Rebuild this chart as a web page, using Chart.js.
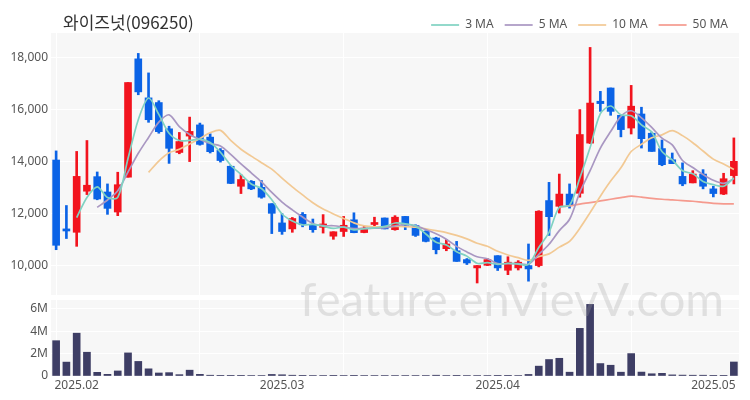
<!DOCTYPE html>
<html>
<head>
<meta charset="utf-8">
<script src="https://cdn.jsdelivr.net/npm/chart.js@4.4.1/dist/chart.umd.min.js"></script>
<style>
  html, body { margin: 0; padding: 0; background: #fff; }
  #wrap { position: relative; width: 750px; height: 400px; overflow: hidden; }
  #title { position: absolute; left: 63px; top: 12px; line-height: 20px; font-size: 17px;
           font-family: "Noto Sans CJK KR", "Noto Sans", sans-serif; color: #333; }
  #mark { position: absolute; left: 300px; top: 274px; line-height: 48px; font-size: 47px;
          font-family: Lato, sans-serif; color: rgba(160, 160, 160, 0.28);
          white-space: nowrap; pointer-events: none; }
</style>
</head>
<body>
<div id="wrap">
  <canvas id="priceChart" width="750" height="298" style="position:absolute;left:0;top:0"></canvas>
  <canvas id="volChart" width="750" height="102" style="position:absolute;left:0;top:298px"></canvas>
  <div id="title">와이즈넛(096250)</div>
  <div id="mark">feature.enVievV.com</div>
</div>
<script>
// 거래일
const dates = [
  "2025.01.24", "2025.01.31",
  "2025.02.03", "2025.02.04", "2025.02.05", "2025.02.06", "2025.02.07",
  "2025.02.10", "2025.02.11", "2025.02.12", "2025.02.13", "2025.02.14",
  "2025.02.17", "2025.02.18", "2025.02.19", "2025.02.20", "2025.02.21",
  "2025.02.24", "2025.02.25", "2025.02.26", "2025.02.27", "2025.02.28",
  "2025.03.03", "2025.03.04", "2025.03.05", "2025.03.06", "2025.03.07",
  "2025.03.10", "2025.03.11", "2025.03.12", "2025.03.13", "2025.03.14",
  "2025.03.17", "2025.03.18", "2025.03.19", "2025.03.20", "2025.03.21",
  "2025.03.24", "2025.03.25", "2025.03.26", "2025.03.27", "2025.03.28", "2025.03.31",
  "2025.04.01", "2025.04.02", "2025.04.03", "2025.04.04",
  "2025.04.07", "2025.04.08", "2025.04.09", "2025.04.10", "2025.04.11",
  "2025.04.14", "2025.04.15", "2025.04.16", "2025.04.17", "2025.04.18",
  "2025.04.21", "2025.04.22", "2025.04.23", "2025.04.24", "2025.04.25",
  "2025.04.28", "2025.04.29",
  "2025.05.02", "2025.05.07", "2025.05.08"
];

// 시가 / 고가 / 저가 / 종가
const openP = [14050, 11400, 11270, 12850, 13410, 12820, 12050, 13390, 17940, 16440,
  16260, 15250, 14340, 14970, 15400, 14930, 14420, 13810, 13040, 13230,
  13000, 12370, 11630, 11400, 11960, 11560, 11460, 11120, 11300, 11750,
  11260, 11570, 11820, 11370, 11880, 11530, 11310, 11050, 10640, 10560,
  10220, 9900, 10000, 10370, 9810, 9900, 9990, 9990, 12490, 12270,
  12740, 12770, 14700, 16310, 16820, 15770, 15280, 15820, 15080, 14490,
  14060, 13420, 13170, 13510, 12940, 12740, 13450];
const highP = [14400, 12300, 14380, 14800, 13590, 13130, 13580, 17030, 18150, 17400,
  16330, 15350, 15110, 15700, 15470, 15060, 14490, 13830, 13490, 13260,
  13260, 12370, 11990, 11840, 12030, 11780, 11950, 11290, 11880, 12020,
  11500, 11850, 11820, 11910, 11880, 11560, 11330, 11080, 10990, 10920,
  10260, 9990, 10260, 10370, 10330, 10180, 10820, 12100, 13190, 13510,
  13130, 15990, 18380, 16690, 16820, 15770, 16920, 16080, 15120, 14820,
  14320, 13940, 13640, 13680, 13040, 13540, 14900];
const lowP = [10600, 11030, 10730, 12720, 12520, 11960, 11910, 13390, 16560, 15500,
  15080, 13920, 14290, 13990, 14620, 14320, 13970, 13140, 12760, 12910,
  12580, 11220, 11190, 11270, 11480, 11270, 11240, 11000, 11110, 11250,
  11250, 11460, 11400, 11350, 11370, 11110, 10900, 10440, 10560, 10150,
  10030, 9320, 9990, 9800, 9640, 9820, 9390, 9940, 11150, 12010,
  12200, 12620, 14680, 15920, 15770, 14940, 15050, 14510, 14380, 13830,
  13910, 13060, 13170, 12940, 12630, 12720, 13130];
const closeP = [10770, 11320, 13420, 13080, 12550, 12190, 13100, 17030, 16670, 15600,
  15140, 14500, 14760, 15150, 14650, 14370, 14030, 13150, 13300, 12940,
  12620, 12000, 11300, 11800, 11560, 11370, 11590, 11290, 11540, 11255,
  11430, 11630, 11400, 11850, 11540, 11150, 10920, 10600, 10820, 10150,
  10090, 9990, 10220, 9900, 10120, 10120, 9860, 12080, 11870, 12740,
  12310, 15030, 16240, 16220, 15920, 15220, 16120, 14870, 14380, 13870,
  13910, 13130, 13510, 13040, 12760, 13330, 14000];

// 거래량
const volume = [3150000, 1240000, 3820000, 2120000, 330000, 150000, 450000, 2060000, 1300000, 640000,
  270000, 300000, 120000, 520000, 150000, 70000, 60000, 60000, 60000, 50000,
  40000, 140000, 110000, 70000, 60000, 50000, 50000, 60000, 50000, 60000,
  40000, 40000, 50000, 40000, 40000, 40000, 50000, 70000, 40000, 60000,
  40000, 40000, 40000, 30000, 30000, 40000, 140000, 880000, 1470000, 1580000,
  340000, 4250000, 6390000, 1110000, 960000, 340000, 2000000, 350000, 200000, 240000,
  100000, 80000, 70000, 70000, 60000, 60000, 1250000];

// 이동평균선
const ma3 = [null, null,
  11837, 12607, 13017, 12607, 12613, 14107, 15600, 16433, 15803, 15080,
  14800, 14803, 14853, 14723, 14350, 13850, 13493, 13130, 12953, 12520,
  11973, 11700, 11553, 11577, 11507, 11417, 11473, 11362, 11408, 11438,
  11487, 11627, 11597, 11513, 11203, 10890, 10780, 10523, 10353, 10077,
  10100, 10037, 10080, 10047, 10033, 10687, 11270, 12230, 12307, 13360,
  14527, 15830, 16127, 15787, 15753, 15403, 15123, 14373, 14053, 13637,
  13517, 13227, 13103, 13043, 13363];
const ma5 = [null, null, null, null,
  12228, 12512, 12868, 13590, 14308, 14918, 15508, 15788, 15334, 15030,
  14840, 14686, 14592, 14270, 13900, 13558, 13208, 12802, 12432, 12132,
  11856, 11606, 11524, 11522, 11470, 11409, 11421, 11429, 11451, 11513,
  11570, 11514, 11372, 11212, 11006, 10728, 10516, 10330, 10254, 10070,
  10064, 10070, 10044, 10416, 10810, 11334, 11772, 12806, 13638, 14508,
  15144, 15726, 15944, 15670, 15302, 14892, 14630, 14032, 13760, 13492,
  13270, 13154, 13328];
const ma10 = [null, null, null, null, null, null, null, null, null,
  13573, 14010, 14328, 14462, 14669, 14879, 15097, 15190, 14802, 14465,
  14199, 13947, 13697, 13351, 13016, 12707, 12407, 12163, 11977, 11801,
  11633, 11514, 11477, 11487, 11492, 11490, 11468, 11401, 11332, 11260,
  11149, 11015, 10851, 10733, 10538, 10396, 10293, 10187, 10335, 10440,
  10699, 10921, 11425, 12027, 12659, 13239, 13749, 14375, 14654, 14905,
  15018, 15178, 14988, 14715, 14397, 14084, 13895, 13683];
const ma50 = [null, null, null, null, null, null, null, null, null, null,
  null, null, null, null, null, null, null, null, null, null,
  null, null, null, null, null, null, null, null, null, null,
  null, null, null, null, null, null, null, null, null, null,
  null, null, null, null, null, null, null, null, null,
  12251, 12281, 12356, 12412, 12475, 12542, 12603, 12663, 12620, 12574,
  12540, 12515, 12488, 12463, 12420, 12383, 12362, 12361];

// 축 눈금
const priceTicks = [10000, 12000, 14000, 16000, 18000];
const volTicks = [0, 2000000, 4000000, 6000000];
const volTickLabels = ["0", "2M", "4M", "6M"];

const UP = "#f2141e";
const DOWN = "#0b63e6";
const candleColor = closeP.map((c, i) => (c >= openP[i] ? UP : DOWN));

Chart.defaults.font.family = "Noto Sans";
Chart.defaults.font.size = 12;
Chart.defaults.color = "#555";

// 플롯 영역 배경
const plotBg = {
  id: "plotBg",
  beforeDraw(chart) {
    const { ctx, chartArea: a } = chart;
    ctx.save();
    ctx.fillStyle = "#f7f7f7";
    ctx.fillRect(a.left, a.top, a.right - a.left, a.bottom - a.top);
    ctx.restore();
  },
};

const xGrid = (c) => (c.index % 14 === 0 ? "#ffffff" : "rgba(0,0,0,0)");
const monthLabel = (i) =>
  i > 0 && dates[i].slice(0, 7) !== dates[i - 1].slice(0, 7) ? dates[i].slice(0, 7) : "";

function maLine(label, data, color) {
  return {
    type: "line",
    label: label,
    data: data,
    borderColor: color,
    backgroundColor: color,
    borderWidth: 1.7,
    pointRadius: 0,
    tension: 0.3,
    order: 0,
  };
}

new Chart(document.getElementById("priceChart"), {
  type: "bar",
  data: {
    labels: dates,
    datasets: [
      maLine("3 MA", ma3, "#80d2c2"),
      maLine("5 MA", ma5, "#a997c2"),
      maLine("10 MA", ma10, "#f2c994"),
      maLine("50 MA", ma50, "#f59a8e"),
      {
        label: "body",
        data: openP.map((o, i) => [o, closeP[i]]),
        backgroundColor: candleColor,
        barThickness: 7,
        minBarLength: 2,
        grouped: false,
        order: 1,
      },
      {
        label: "wick",
        data: lowP.map((l, i) => [l, highP[i]]),
        backgroundColor: candleColor,
        barThickness: 2,
        grouped: false,
        order: 2,
      },
    ],
  },
  options: {
    responsive: false,
    animation: false,
    layout: { padding: { top: 8, right: 11, bottom: 3, left: 0 } },
    plugins: {
      tooltip: { enabled: false },
      legend: {
        position: "top",
        align: "end",
        maxHeight: 25,
        labels: {
          filter: (it) => /MA$/.test(it.text),
          usePointStyle: true,
          pointStyle: "line",
          pointStyleWidth: 28,
          padding: 11,
          color: "#555",
        },
      },
    },
    scales: {
      x: {
        offset: true,
        grid: { offset: false, drawTicks: false, color: xGrid },
        border: { display: false },
        ticks: { display: false, autoSkip: false },
        afterFit: (s) => { s.height = 0; s.paddingLeft = 0; s.paddingRight = 0; },
      },
      y: {
        min: 8858,
        max: 18935,
        afterBuildTicks: (s) => { s.ticks = priceTicks.map((v) => ({ value: v })); },
        ticks: { padding: 3, callback: (v) => v.toLocaleString("en-US") },
        grid: { color: "#ffffff", drawTicks: false },
        border: { display: false },
        afterFit: (s) => { s.width = 51; s.paddingTop = 0; s.paddingBottom = 0; },
      },
    },
  },
  plugins: [plotBg],
});

new Chart(document.getElementById("volChart"), {
  type: "bar",
  data: {
    labels: dates,
    datasets: [
      { label: "거래량", data: volume, backgroundColor: "#3e3e65", barThickness: 7 },
    ],
  },
  options: {
    responsive: false,
    animation: false,
    layout: { padding: { top: 2, right: 11, bottom: 5.6, left: 0 } },
    plugins: { legend: { display: false }, tooltip: { enabled: false } },
    scales: {
      x: {
        offset: true,
        grid: { offset: false, drawTicks: false, color: xGrid },
        border: { display: false },
        ticks: { autoSkip: false, maxRotation: 0, padding: 2, callback: (v, i) => monthLabel(i) },
        afterFit: (s) => { s.paddingLeft = 0; s.paddingRight = 0; },
      },
      y: {
        min: 0,
        max: 6780000,
        afterBuildTicks: (s) => { s.ticks = volTicks.map((v) => ({ value: v })); },
        ticks: { padding: 3, callback: (v, i) => volTickLabels[i] },
        grid: { color: "#ffffff", drawTicks: false },
        border: { display: false },
        afterFit: (s) => { s.width = 51; s.paddingTop = 0; s.paddingBottom = 0; },
      },
    },
  },
  plugins: [plotBg],
});
</script>
</body>
</html>
